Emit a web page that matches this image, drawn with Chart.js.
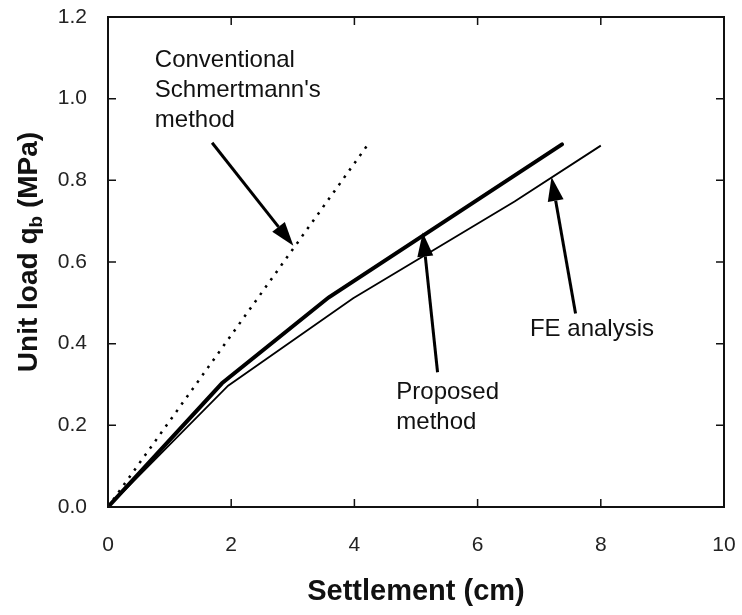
<!DOCTYPE html>
<html>
<head>
<meta charset="utf-8">
<script src="https://cdn.jsdelivr.net/npm/chart.js@4/dist/chart.umd.min.js"></script>
<style>
html,body{margin:0;padding:0;background:#fff;}
#wrap{width:742px;height:615px;}
</style>
</head>
<body>
<div id="wrap"><canvas id="c" width="742" height="615"></canvas></div>
<script>
// ---- data ----
const proposedX = [0, 1.85, 3.58, 7.37];
const proposedY = [0, 0.303, 0.513, 0.888];
const feX = [0, 1.95, 3.98, 6.6, 8.0];
const feY = [0, 0.297, 0.511, 0.748, 0.885];
const schmertmannX = [0, 4.23];
const schmertmannY = [0, 0.89];
const xTicks = [0, 2, 4, 6, 8, 10];
const yTicks = [0, 0.2, 0.4, 0.6, 0.8, 1.0, 1.2];
const xTitle = 'Settlement (cm)';
const yTitleMain = 'Unit load q';
const yTitleSub = 'b';
const yTitleEnd = ' (MPa)';
// annotations (data units)
const labels = [
  {lines: ['Conventional', "Schmertmann's", 'method'], x: 0.76, y: 1.077},
  {lines: ['Proposed', 'method'], x: 4.68, y: 0.264},
  {lines: ['FE analysis'], x: 6.85, y: 0.42}
];
const arrows = [
  {from: [1.69, 0.892], to: [3.01, 0.64]},
  {from: [5.35, 0.330], to: [5.11, 0.672]},
  {from: [7.59, 0.474], to: [7.20, 0.808]}
];

const pts = (xs, ys) => xs.map((x, i) => ({x, y: ys[i]}));
const FONT = '"Liberation Sans", Arial, Helvetica, sans-serif';

const decor = {
  id: 'decor',
  afterDraw(chart) {
    const {ctx, chartArea: a, scales: {x, y}} = chart;
    ctx.save();
    // frame
    ctx.strokeStyle = '#111';
    ctx.lineWidth = 2;
    ctx.strokeRect(a.left, a.top, a.right - a.left, a.bottom - a.top);
    // inward ticks
    const tl = 8;
    ctx.lineWidth = 1.5;
    ctx.beginPath();
    xTicks.forEach(v => {
      const px = x.getPixelForValue(v);
      ctx.moveTo(px, a.bottom); ctx.lineTo(px, a.bottom - tl);
      ctx.moveTo(px, a.top); ctx.lineTo(px, a.top + tl);
    });
    yTicks.forEach(v => {
      const py = y.getPixelForValue(v);
      ctx.moveTo(a.left, py); ctx.lineTo(a.left + tl, py);
      ctx.moveTo(a.right, py); ctx.lineTo(a.right - tl, py);
    });
    ctx.stroke();
    // arrows
    ctx.fillStyle = '#000';
    ctx.strokeStyle = '#000';
    arrows.forEach(ar => {
      const x0 = x.getPixelForValue(ar.from[0]), y0 = y.getPixelForValue(ar.from[1]);
      const x1 = x.getPixelForValue(ar.to[0]), y1 = y.getPixelForValue(ar.to[1]);
      const ang = Math.atan2(y1 - y0, x1 - x0);
      const hl = 24, hw = 8;
      const bx = x1 - hl * Math.cos(ang), by = y1 - hl * Math.sin(ang);
      ctx.lineWidth = 3;
      ctx.beginPath(); ctx.moveTo(x0, y0); ctx.lineTo(bx, by); ctx.stroke();
      ctx.beginPath();
      ctx.moveTo(x1, y1);
      ctx.lineTo(bx + hw * Math.sin(ang), by - hw * Math.cos(ang));
      ctx.lineTo(bx - hw * Math.sin(ang), by + hw * Math.cos(ang));
      ctx.closePath(); ctx.fill();
    });
    // text labels
    ctx.fillStyle = '#111';
    ctx.font = '24px ' + FONT;
    ctx.textAlign = 'left';
    ctx.textBaseline = 'alphabetic';
    labels.forEach(l => {
      const px = x.getPixelForValue(l.x), py = y.getPixelForValue(l.y);
      l.lines.forEach((s, i) => ctx.fillText(s, px, py + i * 30));
    });
    // y title with subscript
    const fMain = 'bold 28px ' + FONT, fSub = 'bold 19px ' + FONT;
    ctx.font = fMain; const w1 = ctx.measureText(yTitleMain).width;
    const w3 = ctx.measureText(yTitleEnd).width;
    ctx.font = fSub; const w2 = ctx.measureText(yTitleSub).width;
    const total = w1 + w2 + w3;
    const cy = (a.top + a.bottom) / 2 - 10;
    ctx.translate(37, cy);
    ctx.rotate(-Math.PI / 2);
    ctx.textAlign = 'left';
    ctx.font = fMain; ctx.fillText(yTitleMain, -total / 2, 0);
    ctx.font = fSub; ctx.fillText(yTitleSub, -total / 2 + w1, 5);
    ctx.font = fMain; ctx.fillText(yTitleEnd, -total / 2 + w1 + w2, 0);
    ctx.restore();
  }
};

new Chart(document.getElementById('c'), {
  type: 'scatter',
  data: {
    datasets: [
      {label: 'Conventional Schmertmann', data: pts(schmertmannX, schmertmannY), showLine: true,
       borderColor: '#000', borderWidth: 2.5, borderDash: [2.5, 6.5], pointRadius: 0, fill: false},
      {label: 'FE analysis', data: pts(feX, feY), showLine: true,
       borderColor: '#000', borderWidth: 1.8, pointRadius: 0, fill: false},
      {label: 'Proposed method', data: pts(proposedX, proposedY), showLine: true,
       borderColor: '#000', borderWidth: 4, pointRadius: 0, fill: false, borderCapStyle: 'round'}
    ]
  },
  options: {
    responsive: false,
    devicePixelRatio: 1,
    animation: false,
    layout: {padding: {top: 17, right: 18, left: 0, bottom: 0}},
    plugins: {legend: {display: false}, tooltip: {enabled: false}},
    scales: {
      x: {
        type: 'linear', min: 0, max: 10,
        afterBuildTicks: s => { s.ticks = xTicks.map(v => ({value: v})); },
        ticks: {font: {size: 21, family: FONT}, color: '#222', padding: 26,
                callback: v => String(v)},
        grid: {display: false, drawTicks: false},
        border: {display: false},
        title: {display: true, text: xTitle, color: '#111',
                font: {size: 29, weight: 'bold', family: FONT, lineHeight: 1.2},
                padding: {top: 0, bottom: 6}},
        afterFit: s => { s.height = 108; s.paddingLeft = 0; s.paddingRight = 0; }
      },
      y: {
        type: 'linear', min: 0, max: 1.2,
        afterBuildTicks: s => { s.ticks = yTicks.map(v => ({value: v})); },
        ticks: {font: {size: 21, family: FONT}, color: '#222', padding: 21,
                callback: v => Number(v).toFixed(1)},
        grid: {display: false, drawTicks: false},
        border: {display: false},
        afterFit: s => { s.width = 108; s.paddingTop = 0; s.paddingBottom = 0; }
      }
    }
  },
  plugins: [decor]
});
</script>
</body>
</html>
